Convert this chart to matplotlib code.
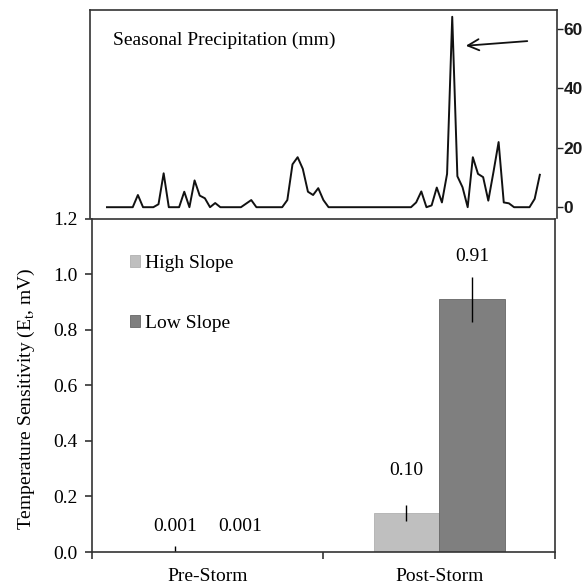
import matplotlib.pyplot as plt
import numpy as np

plt.rcParams['font.family'] = ['Liberation Serif', 'DejaVu Serif']
plt.rcParams['mathtext.fontset'] = 'custom'
plt.rcParams['mathtext.rm'] = 'Liberation Serif'

# seasonal precipitation (mm), one value per day
precip = [0, 0, 0, 0, 0, 0, 4.1, 0, 0, 0, 1.0, 11.4, 0, 0, 0, 5.2, 0, 9.0, 3.9, 3.0,
          0, 1.4, 0, 0, 0, 0, 0, 1.2, 2.4, 0, 0, 0, 0, 0, 0, 2.4, 14.4, 16.8, 12.9, 5.2,
          4.1, 6.4, 2.4, 0, 0, 0, 0, 0, 0, 0, 0, 0, 0, 0, 0, 0, 0, 0, 0, 0,
          1.6, 5.3, 0, 0.6, 6.6, 1.6, 11.2, 64.0, 10.4, 6.7, 0, 16.8, 11.2, 10.1, 2.2, 11.8,
          21.9, 1.6, 1.3, 0, 0, 0, 0, 2.8, 10.9]

categories = ['Pre-Storm', 'Post-Storm']
high_slope = [0.001, 0.14]
high_err = [0.02, 0.03]
high_labels = ['0.001', '0.10']
low_slope = [0.001, 0.91]
low_err = [0.0, 0.08]
low_labels = ['0.001', '0.91']

fig = plt.figure(figsize=(5.88, 5.85), dpi=100)

# top panel: precipitation
ax_p = fig.add_axes([0.153, 0.627, 0.794, 0.356])
days = np.arange(len(precip))
ax_p.plot(days, precip, color='#111111', lw=1.4)
ax_p.set_xlim(-3.3, 87.3)
ax_p.set_ylim(-3.7, 66.3)
ax_p.set_xticks([])
ax_p.yaxis.tick_right()
ax_p.set_yticks([0, 20, 40, 60])
ax_p.tick_params(axis='y', direction='out', length=4, pad=1, width=1, colors='#222222')
for lab in ax_p.get_yticklabels():
    lab.set_family('Liberation Sans')
    lab.set_fontsize(12.5)
    lab.set_weight('bold')
    lab.set_color('#1a1a1a')
for s in ax_p.spines.values():
    s.set_color('#333333')
    s.set_linewidth(1.2)
ax_p.spines['bottom'].set_visible(False)
ax_p.text(0.049, 0.856, 'Seasonal Precipitation (mm)', transform=ax_p.transAxes,
          fontsize=14, va='center', ha='left')
peak = int(np.argmax(precip))
ax_p.annotate('', xy=(peak + 2.1, 54.2), xytext=(peak + 15.1, 55.9),
              arrowprops=dict(arrowstyle='->', color='#111111', lw=1.3,
                              mutation_scale=20))

# bottom panel: bars
ax = fig.add_axes([0.156, 0.0564, 0.788, 0.5696])
x = np.arange(len(categories))
w = 0.283
ax.bar(x - w / 2, high_slope, w, color='#bfbfbf', edgecolor='#b0b0b0', lw=0.6,
       yerr=high_err, error_kw=dict(ecolor='black', elinewidth=1, capsize=0),
       label='High Slope')
ax.bar(x + w / 2, low_slope, w, color='#7f7f7f', edgecolor='#666666', lw=0.6,
       yerr=low_err, error_kw=dict(ecolor='black', elinewidth=1, capsize=0),
       label='Low Slope')

# value labels sit above the largest error bar of each group
group_err = np.maximum(high_err, low_err)
for xs, vals, labs in [(x - w / 2, high_slope, high_labels),
                       (x + w / 2, low_slope, low_labels)]:
    for xi, v, e, t in zip(xs, vals, group_err, labs):
        ax.annotate(t, (xi, v + e), xytext=(0, 14.5), textcoords='offset points',
                    ha='center', va='center', fontsize=14)

ax.set_xlim(-0.5, 1.5)
ax.set_ylim(0, 1.2)
ax.set_yticks(np.arange(0, 1.21, 0.2))
ax.set_yticklabels([f'{v:.1f}' for v in np.arange(0, 1.21, 0.2)])
ax.set_xticks(x)
ax.set_xticklabels(categories)
ax.set_xticks([-0.5, 0.5, 1.5], minor=True)
ax.tick_params(axis='x', which='major', length=0, pad=11.5, labelsize=14)
ax.tick_params(axis='x', which='minor', length=5, width=1.2, direction='out', colors='#333333')
ax.tick_params(axis='y', length=5, width=1.2, direction='out', pad=5, labelsize=14, colors='#333333')
for lab in ax.get_yticklabels() + ax.get_xticklabels():
    lab.set_color('black')
for s in ax.spines.values():
    s.set_color('#333333')
    s.set_linewidth(1.2)
ax.set_ylabel('Temperature Sensitivity (E$_\\mathregular{t}$, mV)', fontsize=14)
ax.yaxis.set_label_coords(-0.119, 0.46)

ax.legend(loc='upper left', bbox_to_anchor=(0.082, 0.892), frameon=False, fontsize=14,
          handlelength=0.55, handleheight=0.55, handletextpad=0.25, labelspacing=2.2,
          borderpad=0, borderaxespad=0)

fig.savefig('out.png', dpi=100)
